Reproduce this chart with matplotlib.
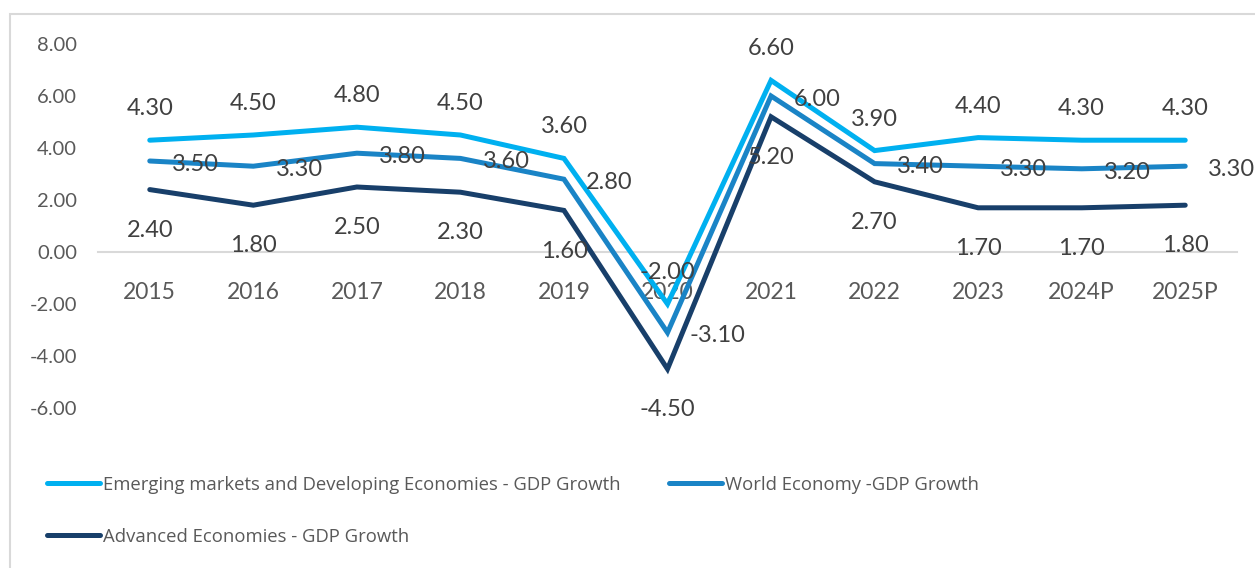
import matplotlib
matplotlib.use("Agg")
import matplotlib.pyplot as plt
from matplotlib.patches import Rectangle

years = ["2015", "2016", "2017", "2018", "2019", "2020", "2021", "2022", "2023", "2024P", "2025P"]
emerging = [4.3, 4.5, 4.8, 4.5, 3.6, -2.0, 6.6, 3.9, 4.4, 4.3, 4.3]
world = [3.5, 3.3, 3.8, 3.6, 2.8, -3.1, 6.0, 3.4, 3.3, 3.2, 3.3]
advanced = [2.4, 1.8, 2.5, 2.3, 1.6, -4.5, 5.2, 2.7, 1.7, 1.7, 1.8]

names = ["Emerging markets and Developing Economies - GDP Growth",
         "World Economy -GDP Growth",
         "Advanced Economies - GDP Growth"]
colors = ["#00B0F0", "#1A84C6", "#183F6A"]

W, H = 1255, 568
fig = plt.figure(figsize=(W / 100, H / 100), dpi=100)
ax = fig.add_axes([98 / W, (H - 408) / H, (1237 - 98) / W, (408 - 44) / H])

# chart frame (Excel-style light border, cut at right/bottom)
fig.patches.append(Rectangle((10 / W, -0.1), 1.2, (H - 14) / H + 0.1, transform=fig.transFigure,
                             fill=False, edgecolor="#D9D9D9", linewidth=1.5))

# zero line as the category axis (set before tick labels, it resets ticks)
for s in ["top", "right", "left"]:
    ax.spines[s].set_visible(False)
ax.spines["bottom"].set_position(("data", 0))
ax.spines["bottom"].set_color("#D9D9D9")
ax.spines["bottom"].set_linewidth(1.5)
ax.patch.set_alpha(0)

x = list(range(len(years)))
series = [emerging, world, advanced]
lines = []
for vals, c, n in zip(series, colors, names):
    ln, = ax.plot(x, vals, color=c, linewidth=3.6, solid_capstyle="round",
                  solid_joinstyle="miter", label=n, zorder=3)
    lines.append(ln)

lab_color = "#404040"
num_font = "Lato"
for i, v in enumerate(emerging):
    ax.annotate(f"{v:.2f}", (i, v), xytext=(0, 18), textcoords="offset points",
                ha="center", va="baseline", fontsize=17, color=lab_color, family=num_font, zorder=5)
for i, v in enumerate(world):
    ax.annotate(f"{v:.2f}", (i, v), xytext=(16, -7), textcoords="offset points",
                ha="left", va="baseline", fontsize=17, color=lab_color, family=num_font, zorder=5,
                annotation_clip=False)
for i, v in enumerate(advanced):
    ax.annotate(f"{v:.2f}", (i, v), xytext=(0, -34), textcoords="offset points",
                ha="center", va="baseline", fontsize=17, color=lab_color, family=num_font, zorder=5)

ax.set_xlim(-0.5, len(years) - 0.5)
ax.set_ylim(-6, 8)
yt = [-6, -4, -2, 0, 2, 4, 6, 8]
ax.set_yticks(yt)
ax.set_yticklabels([f"{t:.2f}" for t in yt], family=num_font, fontsize=14.5, color="#595959")
ax.set_xticks(x)
ax.set_xticklabels(years, family=num_font, fontsize=16.5, color="#595959")
ax.tick_params(axis="x", length=0, pad=21.5)
ax.tick_params(axis="y", length=0, pad=15)

handles = [lines[0], lines[2], lines[1]]
labels = [names[0], names[2], names[1]]
fig.legend(handles, labels, loc="upper left", bbox_to_anchor=(30 / W, 1 - 459 / H),
           ncol=2, frameon=False, prop={"family": "Open Sans", "size": 13.3},
           handlelength=2.9, handletextpad=0.15, columnspacing=2.6, labelspacing=1.85,
           labelcolor="#595959")

fig.savefig("out.png", dpi=100)
